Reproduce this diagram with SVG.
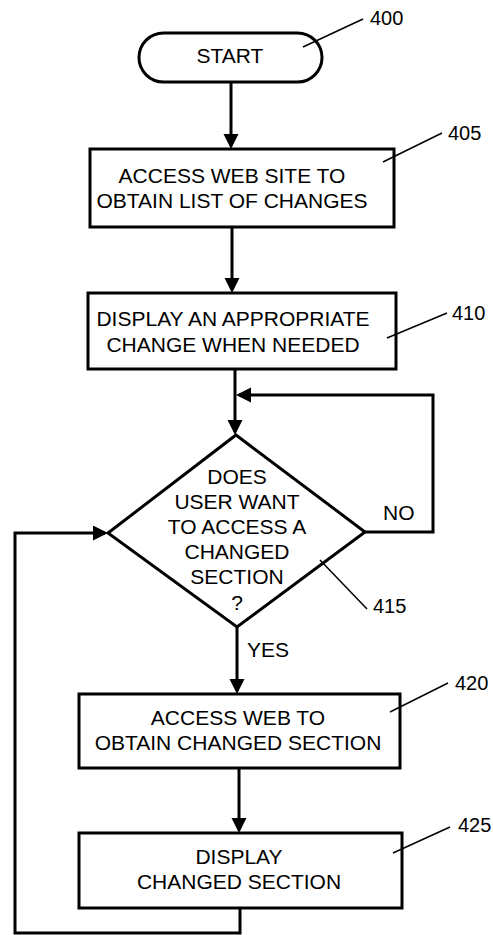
<svg xmlns="http://www.w3.org/2000/svg" width="493" height="935" viewBox="0 0 493 935">
<style>
.shape{fill:#fff;stroke:#000;stroke-width:3}
.conn{fill:none;stroke:#000;stroke-width:3}
.lead{fill:none;stroke:#000;stroke-width:1.5}
text{font-family:"Liberation Sans",Arial,sans-serif;font-size:21px;fill:#000}
.c{text-anchor:middle}
.lbl{font-size:20px}
</style>
<defs>
<marker id="arr" markerUnits="userSpaceOnUse" markerWidth="16" markerHeight="16" refX="12" refY="7.5" orient="auto">
<path d="M0,0 L15,7.5 L0,15 z" fill="#000"/>
</marker>
</defs>
<rect width="493" height="935" fill="#fff"/>
<g id="connectors">
<line class="conn" x1="231" y1="82" x2="231" y2="146" marker-end="url(#arr)"/>
<line class="conn" x1="232" y1="227" x2="232" y2="290" marker-end="url(#arr)"/>
<line class="conn" x1="235" y1="369" x2="235" y2="432" marker-end="url(#arr)"/>
<polyline class="conn" points="365,532 433,532 433,395 239,395" marker-end="url(#arr)"/>
<line class="conn" x1="237" y1="627" x2="237" y2="691" marker-end="url(#arr)"/>
<line class="conn" x1="239" y1="768" x2="239" y2="830" marker-end="url(#arr)"/>
<polyline class="conn" points="240,908 240,933 15,933 15,533 105,533" marker-end="url(#arr)"/>
<text x="383" y="520">NO</text>
<text x="247" y="657">YES</text>
</g>
<g id="n400">
<rect class="shape" x="139" y="33" width="183" height="49" rx="24.5"/>
<text class="c" x="230" y="63">START</text>
<line class="lead" x1="303" y1="47" x2="363" y2="19"/>
<text class="lbl" x="370" y="25">400</text>
</g>
<g id="n405">
<rect class="shape" x="90" y="149" width="304" height="78"/>
<text class="c" x="232" y="183">ACCESS WEB SITE TO</text>
<text class="c" x="232" y="208">OBTAIN LIST OF CHANGES</text>
<line class="lead" x1="383" y1="162" x2="442" y2="133"/>
<text class="lbl" x="448" y="140">405</text>
</g>
<g id="n410">
<rect class="shape" x="88" y="293" width="308" height="76"/>
<text class="c" x="233" y="326">DISPLAY AN APPROPRIATE</text>
<text class="c" x="233" y="352">CHANGE WHEN NEEDED</text>
<line class="lead" x1="387" y1="338" x2="447" y2="313"/>
<text class="lbl" x="452" y="320">410</text>
</g>
<g id="n415">
<polygon class="shape" points="236,435 365,532 237,627 108,533"/>
<text class="c" x="237" y="484">DOES</text>
<text class="c" x="237" y="509">USER WANT</text>
<text class="c" x="237" y="534">TO ACCESS A</text>
<text class="c" x="237" y="559">CHANGED</text>
<text class="c" x="237" y="584">SECTION</text>
<text class="c" x="237" y="610">?</text>
<line class="lead" x1="320" y1="560" x2="367" y2="609"/>
<text class="lbl" x="373" y="613">415</text>
</g>
<g id="n420">
<rect class="shape" x="79" y="694" width="321" height="74"/>
<text class="c" x="238" y="725">ACCESS WEB TO</text>
<text class="c" x="238" y="750">OBTAIN CHANGED SECTION</text>
<line class="lead" x1="390" y1="712" x2="448" y2="683"/>
<text class="lbl" x="455" y="690">420</text>
</g>
<g id="n425">
<rect class="shape" x="79" y="833" width="323" height="75"/>
<text class="c" x="239" y="864">DISPLAY</text>
<text class="c" x="239" y="889">CHANGED SECTION</text>
<line class="lead" x1="393" y1="853" x2="450" y2="827"/>
<text class="lbl" x="458" y="832">425</text>
</g>
</svg>
